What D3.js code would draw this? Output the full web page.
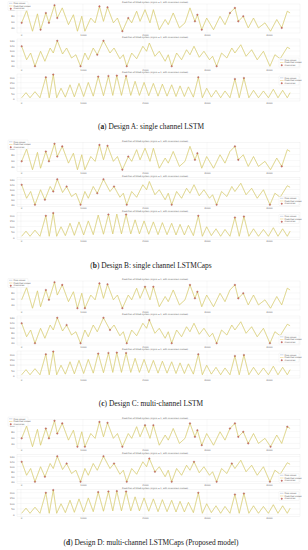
<!DOCTYPE html>
<html>
<head>
<meta charset="utf-8">
<script src="https://cdn.jsdelivr.net/npm/d3@7"></script>
<style>
  body { margin: 0; background: #fff; }
  svg { display: block; }
</style>
</head>
<body>
<script>
// chart size
var w = 308;
var h = 550;

// time axis ticks
var xTicks = [0, 1000, 2000, 3000, 4000];

// series 1 (top subplot) - zigzag vertices
var s1x = [10, 90, 185, 265, 315, 400, 450, 540, 585, 665, 765, 845, 910, 980, 1030,
           1125, 1195, 1265, 1330, 1395, 1490, 1555, 1635, 1730, 1785, 1865, 1920, 2000, 2080, 2135,
           2230, 2325, 2375, 2455, 2555, 2645, 2725, 2805, 2845, 2915, 2995, 3105, 3210, 3290, 3370,
           3450, 3505, 3585, 3665, 3750, 3830, 3935, 4025, 4125, 4205, 4295, 4340];
var s1y = [57, 98, 29, 87, 34, 90, 57, 116, 73, 107, 51, 84, 29, 79, 29,
           73, 57, 112, 62, 109, 57, 73, 29, 73, 57, 96, 62, 101, 57, 101,
           34, 68, 51, 90, 40, 57, 107, 62, 84, 34, 73, 34, 79, 51, 90,
           107, 62, 79, 40, 73, 40, 57, 29, 68, 40, 96, 90];

// series 2 (middle subplot)
var s2x = [10, 90, 155, 225, 315, 385, 470, 520, 585, 670, 735, 815, 885, 960, 1030,
           1085, 1165, 1230, 1330, 1435, 1500, 1595, 1650, 1705, 1785, 1865, 1965, 2025, 2070, 2160,
           2230, 2325, 2375, 2430, 2510, 2590, 2670, 2725, 2790, 2875, 2950, 3040, 3090, 3155, 3235,
           3320, 3400, 3450, 3545, 3630, 3720, 3810, 3910, 4015, 4095, 4180, 4295, 4340];
var s2y = [119, 65, 92, 39, 99, 59, 112, 92, 141, 88, 112, 72, 85, 39, 92,
           65, 112, 85, 141, 92, 112, 69, 85, 39, 92, 69, 119, 99, 132, 79,
           99, 59, 85, 39, 92, 65, 105, 85, 119, 75, 99, 65, 79, 39, 92,
           72, 112, 92, 125, 79, 105, 65, 99, 39, 85, 69, 115, 109];

// series 3 (bottom subplot)
var s3x = [10, 80, 145, 225, 305, 400, 455, 520, 575, 645, 715, 790, 860, 935, 1010,
           1085, 1165, 1245, 1330, 1410, 1480, 1545, 1620, 1695, 1770, 1840, 1910, 1985, 2060, 2135,
           2210, 2280, 2355, 2430, 2500, 2565, 2635, 2700, 2780, 2860, 2925, 2995, 3070, 3145, 3220,
           3290, 3370, 3450, 3520, 3595, 3675, 3750, 3830, 3910, 3990, 4070, 4145, 4220, 4295, 4340];
var s3y = [10, 57, 10, 66, 10, 200, 10, 225, 10, 98, 16, 130, 19, 143, 22,
           152, 25, 206, 29, 212, 32, 215, 32, 212, 32, 162, 32, 152, 29, 143,
           25, 136, 25, 130, 22, 120, 22, 111, 16, 200, 10, 98, 16, 79, 10,
           73, 10, 184, 10, 193, 10, 79, 10, 73, 10, 89, 10, 79, 10, 57];

// y ticks per subplot
var yTicks1 = [40, 60, 80, 100];
var yTicks2 = [40, 60, 80, 100, 120, 140];
var yTicks3 = [0, 50, 100, 150, 200];

// anomalies (vertex indices) per design, per subplot
var anomA = [[0, 4, 5, 6, 7, 8, 17, 19, 22, 23, 37, 38, 39, 44, 45, 46, 47, 54],
             [0, 3, 8, 13, 17, 18, 23, 33, 43],
             [5, 7, 17, 19, 21, 23, 39, 47, 49]];
var anomB = [[0, 5, 6, 7, 8, 9, 17, 19, 22, 23, 37, 38, 45, 46, 54],
             [0, 3, 5, 7, 8, 10, 13, 17, 18, 20, 23, 33, 43, 53],
             [5, 7, 19, 23, 39, 47, 49]];
var anomC = [[5, 6, 7, 9, 12, 14, 17, 19, 22, 27, 29, 36, 37, 38, 45, 46, 47],
             [0, 3, 8, 10, 13, 18, 19, 23, 28, 33, 43, 53],
             [5, 7, 17, 19, 21, 23, 39, 47, 49]];
var anomD = [[0, 5, 6, 7, 8, 9, 12, 14, 17, 19, 22, 27, 29, 36, 37, 38, 39, 44, 45, 46, 47, 48, 52, 55],
             [0, 3, 5, 8, 10, 13, 18, 20, 23, 28, 29, 33, 38, 43, 46, 53],
             [5, 7, 17, 19, 21, 23, 39, 47, 49]];

var designKeys = ['a', 'b', 'c', 'd'];
var captions = ['Design A: single channel LSTM',
                'Design B: single channel LSTMCaps',
                'Design C: multi-channel LSTM',
                'Design D: multi-channel LSTMCaps (Proposed model)'];
var subTitle = 'Prediction of DDoS system (sigma = 1, with anomalies marked)';
var legendLabels = ['Raw values', 'Predicted values', 'Anomalies'];

var series = [
  { xs: s1x, ys: s1y, ticks: yTicks1, domain: [23, 120], top: 4, bottom: 33, legend: 'tl' },
  { xs: s2x, ys: s2y, ticks: yTicks2, domain: [32, 148], top: 39, bottom: 68, legend: 'br' },
  { xs: s3x, ys: s3y, ticks: yTicks3, domain: [-20, 230], top: 74, bottom: 101, legend: 'tr' }
];
var anomalies = [anomA, anomB, anomC, anomD];
var panelOffsets = [0, 138.5, 277, 415.5];

var rawColor = '#cdd27e';
var predColor = '#e6c25c';
var anomColor = '#e8595a';

var svg = d3.select('body')
    .append('svg')
    .attr('width', w)
    .attr('height', h);

var xScale = d3.scaleLinear()
    .domain([-65, 4500])
    .range([17, 300]);

designKeys.forEach(function(key, p) {
  var g = svg.append('g').attr('transform', 'translate(0,' + panelOffsets[p] + ')');

  series.forEach(function(s, k) {
    var yScale = d3.scaleLinear().domain(s.domain).range([s.bottom, s.top]);
    var sg = g.append('g');

    // grid
    sg.selectAll('.hg').data(s.ticks).enter().append('line')
      .attr('x1', 17).attr('x2', 300)
      .attr('y1', d => yScale(d)).attr('y2', d => yScale(d))
      .attr('stroke', '#e8e8e8').attr('stroke-width', 0.3);
    sg.selectAll('.vg').data(xTicks).enter().append('line')
      .attr('x1', d => xScale(d)).attr('x2', d => xScale(d))
      .attr('y1', s.top).attr('y2', s.bottom)
      .attr('stroke', '#e8e8e8').attr('stroke-width', 0.3);
    sg.append('rect')
      .attr('x', 17).attr('y', s.top).attr('width', 283).attr('height', s.bottom - s.top)
      .attr('fill', 'none').attr('stroke', '#e0e0e0').attr('stroke-width', 0.3);

    // axes
    var yAxis = d3.axisLeft(yScale).tickValues(s.ticks).tickSize(0).tickPadding(2.5)
      .tickFormat(d3.format('d'));
    var xAxis = d3.axisBottom(xScale).tickValues(xTicks).tickSize(0).tickPadding(1.2)
      .tickFormat(d3.format('d'));
    sg.append('g').attr('transform', 'translate(17,0)').call(yAxis);
    sg.append('g').attr('transform', 'translate(0,' + s.bottom + ')').call(xAxis);
    sg.selectAll('.domain').remove();
    sg.selectAll('.tick text')
      .attr('font-size', '2.5px').attr('font-family', 'DejaVu Sans').attr('fill', '#666');

    // title
    sg.append('text')
      .attr('x', 155).attr('y', s.top - 1)
      .attr('text-anchor', 'middle')
      .attr('font-family', 'DejaVu Sans').attr('font-size', '2.1px').attr('fill', '#555')
      .text(subTitle);

    var pts = s.xs.map((x, i) => [x, s.ys[i]]);
    var line = d3.line().x(d => xScale(d[0])).y(d => yScale(d[1]));

    sg.append('path').attr('d', line(pts))
      .attr('fill', 'none').attr('stroke', rawColor).attr('stroke-width', 0.6);
    sg.append('path').attr('d', line(pts))
      .attr('fill', 'none').attr('stroke', predColor).attr('stroke-width', 0.45)
      .attr('stroke-opacity', 0.7);

    // anomalies
    sg.selectAll('.an').data(anomalies[p][k]).enter().append('circle')
      .attr('cx', i => xScale(s.xs[i]))
      .attr('cy', i => yScale(s.ys[i]))
      .attr('r', 0.8)
      .attr('fill', anomColor)
      .attr('fill-opacity', 0.8)
      .attr('stroke', '#6b3a2a')
      .attr('stroke-width', 0.25);

    // legend
    var lx, ly;
    if (s.legend === 'tl') { lx = 8; ly = 1.5; }
    else if (s.legend === 'br') { lx = 279; ly = s.bottom - 10; }
    else { lx = 279; ly = s.top + 2; }
    var lg = sg.append('g').attr('transform', 'translate(' + lx + ',' + ly + ')');
    lg.append('rect').attr('width', 20).attr('height', 9)
      .attr('fill', 'white').attr('fill-opacity', 0.85)
      .attr('stroke', '#e0e0e0').attr('stroke-width', 0.25).attr('rx', 0.6);
    legendLabels.forEach(function(lab, j) {
      var yy = 1.8 + j * 2.7;
      if (j < 2) {
        lg.append('line').attr('x1', 1).attr('x2', 4.5).attr('y1', yy).attr('y2', yy)
          .attr('stroke', j === 0 ? '#9aaed0' : predColor).attr('stroke-width', 0.45);
      } else {
        lg.append('circle').attr('cx', 2.75).attr('cy', yy).attr('r', 0.75)
          .attr('fill', anomColor).attr('stroke', '#6b3a2a').attr('stroke-width', 0.25);
      }
      lg.append('text').attr('x', 5.5).attr('y', yy + 0.7)
        .attr('font-family', 'DejaVu Sans').attr('font-size', '2.1px').attr('fill', '#555')
        .text(lab);
    });
  });

  // caption
  var cap = g.append('text')
    .attr('x', 151).attr('y', 129)
    .attr('text-anchor', 'middle')
    .attr('font-family', 'Liberation Serif')
    .attr('font-size', '7.4px')
    .attr('fill', '#222');
  cap.append('tspan').text('(');
  cap.append('tspan').attr('font-weight', 'bold').text(key);
  cap.append('tspan').text(') ' + captions[p]);
});
</script>
</body>
</html>
